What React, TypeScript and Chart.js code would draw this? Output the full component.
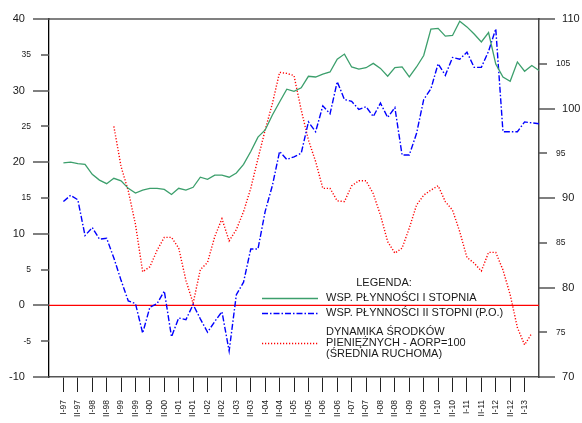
import React, { useEffect, useRef } from 'react';
import { Chart, registerables } from 'chart.js';

Chart.register(...registerables);

const FONT = 'Arial, "Liberation Sans", sans-serif';

// Half-year tick labels (one every 2 quarterly points)
const periodLabels = [
  'I-97', 'II-97', 'I-98', 'II-98', 'I-99', 'II-99', 'I-00', 'II-00',
  'I-01', 'II-01', 'I-02', 'II-02', 'I-03', 'II-03', 'I-04', 'II-04',
  'I-05', 'II-05', 'I-06', 'II-06', 'I-07', 'II-07', 'I-08', 'II-08',
  'I-09', 'II-09', 'I-10', 'II-10', 'I-11', 'II-11', 'I-12', 'II-12', 'I-13',
];

// Quarterly series (67 points), left axis
const liquidityI = [
  19.9, 20.0, 19.8, 19.7, 18.3, 17.5, 17.0, 17.75, 17.4, 16.35,
  15.7, 16.1, 16.35, 16.35, 16.2, 15.5, 16.35, 16.1, 16.5, 17.9,
  17.6, 18.2, 18.2, 17.9, 18.5, 19.7, 21.5, 23.5, 24.5, 26.6,
  28.4, 30.2, 29.9, 30.4, 32.0, 31.9, 32.3, 32.6, 34.4, 35.1,
  33.3, 33.0, 33.2, 33.8, 33.1, 32.0, 33.2, 33.3, 31.9, 33.3,
  34.9, 38.6, 38.7, 37.6, 37.7, 39.7, 38.9, 37.9, 36.8, 38.1,
  33.7, 31.9, 31.3, 34.0, 32.7, 33.5, 32.8,
];

// Quarterly series, right axis (P.O.)
const liquidityII = [
  89.6, 90.3, 89.8, 85.8, 86.7, 85.4, 85.5, 83.3, 80.8, 78.5,
  78.2, 74.9, 77.8, 78.2, 79.6, 74.5, 76.6, 76.4, 78.1, 76.5,
  75.0, 76.2, 77.3, 72.9, 79.2, 80.6, 84.3, 84.3, 88.5, 91.4,
  95.2, 94.3, 94.6, 95.0, 98.5, 97.4, 100.3, 99.4, 103.0, 101.0,
  100.8, 99.9, 100.2, 99.1, 100.6, 99.0, 100.1, 94.8, 94.8, 97.2,
  101.0, 102.2, 105.0, 103.7, 105.7, 105.5, 106.3, 104.6, 104.6, 106.4,
  108.9, 97.4, 97.4, 97.4, 98.5, 98.4, 98.3,
];

// Quarterly series, left axis (moving average)
const cashDynamics: (number | null)[] = [
  null, null, null, null, null, null, null, 25.0, 19.4, 16.0,
  11.3, 4.7, 5.4, 7.7, 9.5, 9.5, 8.0, 3.5, 0.3, 5.0,
  6.0, 9.6, 12.1, 9.0, 10.6, 13.1, 16.35, 20.5, 24.5, 28.2,
  32.55, 32.4, 32.1, 27.3, 23.1, 20.1, 16.35, 16.35, 14.6, 14.5,
  16.7, 17.4, 17.4, 15.6, 12.6, 8.9, 7.3, 8.0, 10.8, 14.0,
  15.4, 16.1, 16.7, 14.5, 13.3, 10.3, 6.7, 5.9, 4.8, 7.4,
  7.4, 4.95, 1.5, -3.1, -5.5, -3.9, null,
];

const zeroLevel = [0, 0];

const legendTitle = 'LEGENDA:';
const legendItems = [
  ['WSP. PŁYNNOŚCI I STOPNIA'],
  ['WSP. PŁYNNOŚCI II STOPNI (P.O.)'],
  ['DYNAMIKA ŚRODKÓW', 'PIENIĘŻNYCH - AORP=100', '(ŚREDNIA RUCHOMA)'],
];

const GREEN = '#3c9f6c';
const BLUE = '#0000ff';
const RED = '#ff0000';
const TICK = '#555';

const toXY = (arr: (number | null)[]) => arr.map((y, i) => ({ x: i, y }));

const isMajorValue = (v: number) => Math.abs(v % 10) === 0;
const isMajor = (ctx: any) => !!ctx.tick && isMajorValue(ctx.tick.value);

const legendPlugin = {
  id: 'boxLegend',
  afterDatasetsDraw(chart: any) {
    const { ctx, chartArea: ca } = chart;
    ctx.save();
    ctx.font = `11px ${FONT}`;
    ctx.fillStyle = '#1a1a1a';
    ctx.textBaseline = 'middle';
    ctx.textAlign = 'center';
    ctx.fillText(legendTitle, ca.left + 335, ca.bottom - 94);
    ctx.textAlign = 'left';
    const rowY = [[-79], [-64], [-45, -34, -23]];
    const sampleY = [-79, -64, -34.5];
    legendItems.forEach((lines, k) => {
      const ds = chart.data.datasets[k];
      const sy = Math.round(ca.bottom + sampleY[k]) + 0.5;
      ctx.save();
      ctx.strokeStyle = ds.borderColor;
      ctx.lineWidth = ds.borderWidth;
      ctx.setLineDash(ds.borderDash || []);
      ctx.beginPath();
      ctx.moveTo(ca.left + 213, sy);
      ctx.lineTo(ca.left + 269, sy);
      ctx.stroke();
      ctx.restore();
      lines.forEach((t, j) => {
        ctx.fillText(t, ca.left + 277, ca.bottom + rowY[k][j]);
      });
    });
    ctx.restore();
  },
};

// Tick marks of both value axes: long for major (every 10), short for minor (every 5)
const valueTickPlugin = {
  id: 'valueTicks',
  afterDraw(chart: any) {
    const ctx = chart.ctx as CanvasRenderingContext2D;
    ['y', 'y1'].forEach((id) => {
      const s = chart.scales[id];
      if (!s) return;
      const onLeft = s.position === 'left';
      const border = onLeft ? s.right : s.left;
      ctx.save();
      ctx.strokeStyle = TICK;
      ctx.lineWidth = 1.5;
      s.ticks.forEach((t: any) => {
        const y = Math.round(s.getPixelForValue(t.value));
        const len = isMajorValue(t.value) ? 16 : 8;
        ctx.beginPath();
        ctx.moveTo(border, y);
        ctx.lineTo(onLeft ? border - len : border + len, y);
        ctx.stroke();
      });
      ctx.restore();
    });
  },
};

export default function App() {
  const ref = useRef<HTMLCanvasElement | null>(null);

  useEffect(() => {
    if (!ref.current) return;
    const chart = new Chart(ref.current, {
      type: 'line',
      data: {
        datasets: [
          {
            label: legendItems[0].join(' '),
            data: toXY(liquidityI),
            borderColor: GREEN,
            borderWidth: 1.3,
            pointRadius: 0,
            yAxisID: 'y',
          },
          {
            label: legendItems[1].join(' '),
            data: toXY(liquidityII),
            borderColor: BLUE,
            borderWidth: 1.4,
            borderDash: [6, 2, 1.5, 2],
            pointRadius: 0,
            yAxisID: 'y1',
          },
          {
            label: legendItems[2].join(' '),
            data: toXY(cashDynamics),
            borderColor: RED,
            borderWidth: 1.4,
            borderDash: [1.2, 1.8],
            pointRadius: 0,
            yAxisID: 'y',
          },
          {
            label: 'zero',
            data: [{ x: -2, y: zeroLevel[0] }, { x: 66, y: zeroLevel[1] }],
            borderColor: RED,
            borderWidth: 1.2,
            pointRadius: 0,
            yAxisID: 'y',
          },
        ],
      },
      options: {
        responsive: false,
        animation: false,
        layout: { padding: { top: 19, left: 0, right: 0, bottom: 0 } },
        plugins: { legend: { display: false }, tooltip: { enabled: false } },
        scales: {
          x: {
            type: 'linear',
            position: 'bottom',
            min: -2,
            max: 66,
            afterBuildTicks: (s: any) => {
              s.ticks = periodLabels.map((_, k) => ({ value: k * 2 }));
            },
            afterFit: (s: any) => {
              s.height = 46;
            },
            ticks: {
              autoSkip: false,
              minRotation: 90,
              maxRotation: 90,
              padding: 8,
              color: '#1a1a1a',
              font: { size: 8.5, family: FONT },
              callback: (v: any) => periodLabels[Math.round(Number(v) / 2)] ?? '',
            },
            grid: { drawOnChartArea: false, tickLength: 15, tickColor: '#222', tickWidth: 1 },
            border: { color: '#555', width: 1.5 },
          },
          xTop: {
            type: 'linear',
            position: 'top',
            min: -2,
            max: 66,
            ticks: { display: false },
            grid: { display: false, drawTicks: false, tickLength: 0 },
            border: { color: '#808080', width: 2 },
          },
          y: {
            position: 'left',
            min: -10,
            max: 40,
            afterFit: (s: any) => {
              s.width = 49;
            },
            ticks: {
              stepSize: 5,
              padding: 2,
              color: '#1a1a1a',
              font: (ctx: any) => ({ size: isMajor(ctx) ? 11 : 8.5, family: FONT }),
              callback: (v: any) => (Number(v) % 10 === 0 ? `${v}  ` : `${v}`),
            },
            grid: { drawOnChartArea: false, tickLength: 16, tickWidth: 0 },
            border: { color: '#000', width: 1.3 },
          },
          y1: {
            position: 'right',
            min: 70,
            max: 110,
            afterFit: (s: any) => {
              s.width = 43;
            },
            ticks: {
              stepSize: 5,
              padding: 1,
              color: '#1a1a1a',
              font: (ctx: any) => ({ size: isMajor(ctx) ? 11 : 8.5, family: FONT }),
              callback: (v: any) => (Number(v) % 10 === 0 ? `  ${v}` : `${v}`),
            },
            grid: { drawOnChartArea: false, tickLength: 16, tickWidth: 0 },
            border: { color: '#444', width: 1.5 },
          },
        },
      },
      plugins: [legendPlugin, valueTickPlugin],
    } as any);
    return () => chart.destroy();
  }, []);

  return (
    <div style={{ position: 'fixed', left: 0, top: 0, width: 582, height: 423, background: '#fff' }}>
      <canvas ref={ref} width={582} height={423} />
    </div>
  );
}
